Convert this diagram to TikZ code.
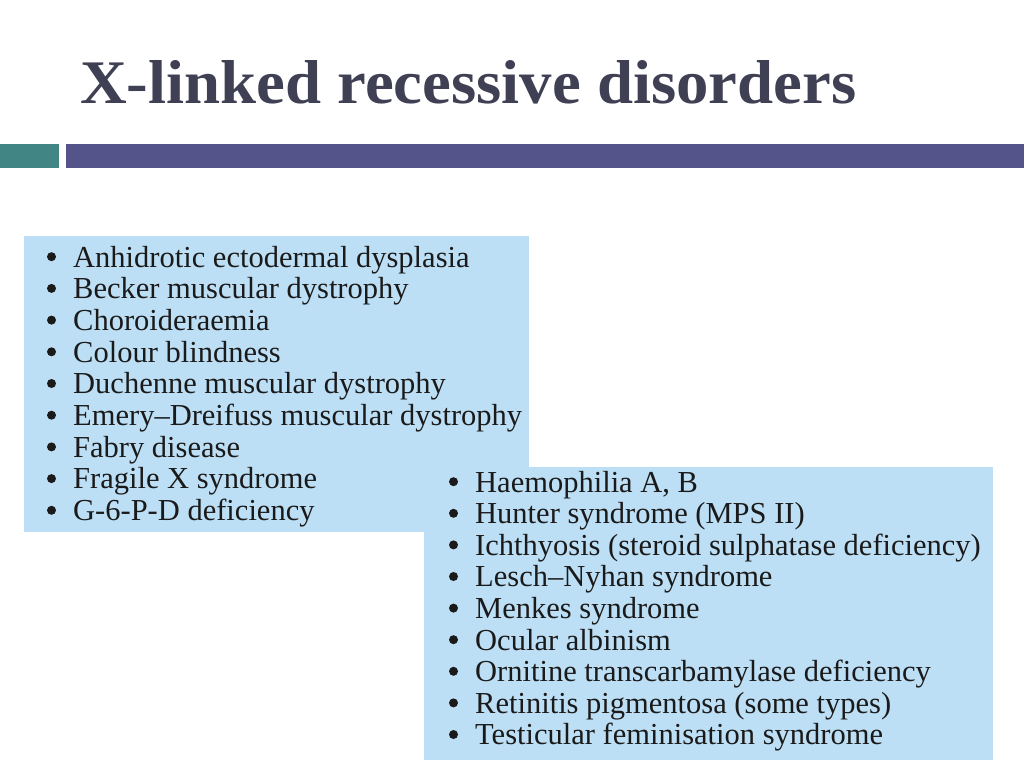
\documentclass[tikz,border=0pt]{standalone}
\usepackage{fontspec}
\setmainfont{Liberation Serif}
\definecolor{titlecol}{HTML}{404055}
\definecolor{barpurple}{HTML}{55548A}
\definecolor{barteal}{HTML}{418685}
\definecolor{boxblue}{HTML}{BDDFF5}
\definecolor{txt}{HTML}{1A1A1A}
\begin{document}
\begin{tikzpicture}[x=1pt,y=-1pt,
  itemtext/.style={anchor=base west,inner sep=0pt,text=txt,font=\fontsize{30.5}{30.5}\selectfont},
  bul/.style={fill=txt,draw=none}]
\useasboundingbox (0,0) rectangle (1024,768);
\fill[white] (0,0) rectangle (1024,768);
% title
\node[anchor=base west,inner sep=0pt,text=titlecol,font=\fontsize{62}{62}\selectfont\bfseries,xscale=1.045] (title) at (80,103) {X-linked recessive disorders};
% bars
\fill[barteal] (0,144) rectangle (59,168);
\fill[barpurple] (66,144) rectangle (1024,168);
% box 1
\fill[boxblue] (24,236) rectangle (529,532);
\foreach \t [count=\i] in {Anhidrotic ectodermal dysplasia,Becker muscular dystrophy,Choroideraemia,Colour blindness,Duchenne muscular dystrophy,Emery--Dreifuss muscular dystrophy,Fabry disease,Fragile X syndrome,G-6-P-D deficiency}{
  \pgfmathsetmacro\yb{267+(\i-1)*31.7}
  \fill[bul] (51.5,\yb-10.3) circle (4.5);
  \node[itemtext] (a\i) at (73,\yb) {\t};
}
% box 2
\fill[boxblue] (424,467) rectangle (993,760);
\foreach \t [count=\i] in {{Haemophilia A, B},Hunter syndrome (MPS II),Ichthyosis (steroid sulphatase deficiency),Lesch--Nyhan syndrome,Menkes syndrome,Ocular albinism,Ornitine transcarbamylase deficiency,Retinitis pigmentosa (some types),Testicular feminisation syndrome}{
  \pgfmathsetmacro\yb{492+(\i-1)*31.6}
  \fill[bul] (453.5,\yb-10.3) circle (4.5);
  \node[itemtext] (b\i) at (475,\yb) {\t};
}
\end{tikzpicture}
\end{document}
